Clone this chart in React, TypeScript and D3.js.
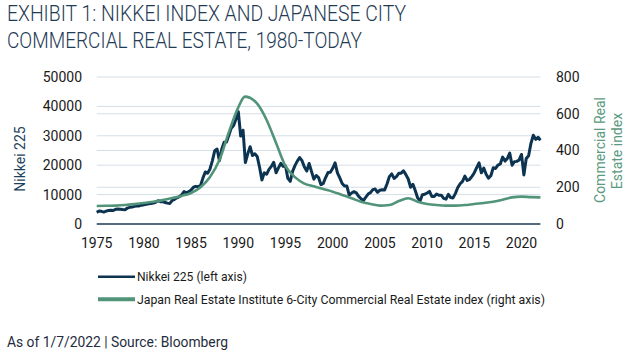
import React from "react";
import * as d3 from "d3";

// Nikkei 225, quarterly readings from 1975 Q1 to 2021 Q4, then the last print (Jan 2022)
const nikkeiStart = 1975;
const nikkeiValues = [
  3950, 4400, 4300, 4050,
  4360, 4600, 4700, 4600,
  4990, 5100, 5000, 4900,
  4870, 5400, 5650, 5800,
  6000, 6100, 6150, 6400,
  6560, 6700, 6900, 7000,
  7120, 7400, 7900, 7600,
  7680, 7300, 7100, 7000,
  8020, 8400, 8900, 9300,
  9890, 11000, 10600, 11000,
  11540, 12500, 12800, 12700,
  13110, 15600, 17700, 17300,
  18700, 21500, 24900, 25500,
  21560, 25500, 27800, 27900,
  30160, 32600, 33500, 35600,
  38200, 29900, 31900, 20900,
  23850, 26300, 23300, 23900,
  22980, 19300, 15000, 17400,
  16930, 18600, 19600, 21000,
  17420, 19100, 20600, 19600,
  19720, 15500, 14500, 17900,
  19870, 21400, 22600, 21550,
  19360, 18000, 20600, 17900,
  15260, 16500, 15800, 13400,
  13840, 15800, 17500, 17600,
  18930, 20800, 17400, 15700,
  13790, 12900, 12900, 9800,
  10540, 11000, 10600, 9400,
  8580, 7970, 9100, 10200,
  10680, 11700, 11900, 10800,
  11490, 11670, 11600, 13600,
  16110, 17060, 15500, 16100,
  17230, 17300, 18100, 16800,
  15310, 12500, 13500, 11300,
  8860, 7800, 9950, 10100,
  10550, 11100, 9380, 9370,
  10230, 9750, 9800, 8700,
  8460, 10080, 9000, 8870,
  10400, 12400, 13700, 14500,
  16290, 14800, 15200, 16200,
  17450, 19200, 20800, 17400,
  19030, 16900, 15600, 16400,
  19110, 18900, 20000, 20400,
  22760, 21400, 22300, 24100,
  20010, 21200, 21300, 21800,
  23660, 16700, 22300, 23200,
  27440, 30200, 28800, 29500,
  28480,
];

// Japan Real Estate Institute 6-City commercial index
const reYears = [
  1975, 1976, 1977, 1978, 1979, 1980, 1981, 1982, 1983, 1984, 1985, 1986,
  1987, 1988, 1989, 1990, 1990.7, 1992, 1993, 1994, 1995, 1996, 1997, 1998,
  1999, 2000, 2001, 2002, 2003, 2004, 2005, 2006, 2007, 2008, 2009, 2010,
  2011, 2012, 2013, 2014, 2015, 2016, 2017, 2018, 2019, 2020, 2021, 2022,
];
const reValues = [
  98, 99, 100, 103, 108, 114, 121, 130, 141, 153, 169, 200,
  256, 348, 500, 635, 693, 655, 566, 441, 315, 255, 220, 205,
  190, 176, 158, 140, 121, 109, 100, 103, 125, 140, 121, 109,
  103, 100, 100, 103, 109, 114, 121, 132, 145, 149, 146, 145,
];

const xTicks = [1975, 1980, 1985, 1990, 1995, 2000, 2005, 2010, 2015, 2020];
const leftTicks = [0, 10000, 20000, 30000, 40000, 50000];
const rightTicks = [0, 200, 400, 600, 800];

const NAVY = "#0c3350";
const GREEN = "#519479";
const GRID = "#d5dee6";
const FONT = "Roboto, 'Noto Sans', sans-serif";

export default function App() {
  const x = d3.scaleLinear().domain([1975, 2022]).range([96.7, 540.4]);
  const yL = d3.scaleLinear().domain([0, 50000]).range([224, 77]);
  const yR = d3.scaleLinear().domain([0, 800]).range([224, 77]);

  const nikkei = nikkeiValues.map((v, i) => ({ t: nikkeiStart + i * 0.25, v }));
  const re = reYears.map((t, i) => ({ t, v: reValues[i] }));

  const nikkeiLine = d3
    .line<{ t: number; v: number }>()
    .x((d) => x(Math.min(d.t, 2022)))
    .y((d) => yL(d.v));
  const reLine = d3
    .line<{ t: number; v: number }>()
    .curve(d3.curveMonotoneX)
    .x((d) => x(d.t))
    .y((d) => yR(d.v));

  const [x0, x1] = x.range();

  return (
    <svg
      width={630}
      height={352}
      style={{ position: "absolute", left: 0, top: 0, background: "#fff" }}
      fontFamily={FONT}
    >
      {/* title */}
      <text x={7} y={21} fontSize={22} fontWeight={300} fill="#1f3b55" textLength={399} lengthAdjust="spacingAndGlyphs">
        EXHIBIT 1: NIKKEI INDEX AND JAPANESE CITY
      </text>
      <text x={7} y={48} fontSize={22} fontWeight={300} fill="#1f3b55" textLength={355} lengthAdjust="spacingAndGlyphs">
        COMMERCIAL REAL ESTATE, 1980-TODAY
      </text>

      {/* gridlines */}
      {leftTicks.slice(1).map((t) => (
        <line key={"gl" + t} x1={x0} x2={x1} y1={yL(t)} y2={yL(t)} stroke={GRID} strokeWidth={1} />
      ))}
      {rightTicks.slice(1, -1).map((t) => (
        <line key={"gr" + t} x1={x0} x2={x1} y1={yR(t)} y2={yR(t)} stroke={GRID} strokeWidth={1} />
      ))}

      {/* series */}
      <path d={nikkeiLine(nikkei) ?? ""} fill="none" stroke={NAVY} strokeWidth={3} strokeLinejoin="round" />
      <path d={reLine(re) ?? ""} fill="none" stroke={GREEN} strokeWidth={2.6} />

      {/* x axis */}
      <line x1={x0} x2={x1} y1={224} y2={224} stroke="#1c3950" strokeWidth={1.5} />
      {xTicks.map((t) => (
        <text key={t} x={x(t)} y={248} fontSize={14} textAnchor="middle" fill="#1a1a1a">
          {t}
        </text>
      ))}

      {/* left axis */}
      {leftTicks.map((t) => (
        <text key={t} x={82} y={yL(t)} dy="0.35em" fontSize={14} textAnchor="end" fill="#1a1a1a">
          {t}
        </text>
      ))}
      <text transform="translate(20,159) rotate(-90)" dy="0.35em" fontSize={14} textAnchor="middle" fill="#1b3f5c">
        Nikkei 225
      </text>

      {/* right axis */}
      {rightTicks.map((t) => (
        <text key={t} x={556} y={yR(t)} dy="0.35em" fontSize={14} textAnchor="start" fill="#1a1a1a">
          {t}
        </text>
      ))}
      <text transform="translate(600,150) rotate(-90)" dy="0.35em" fontSize={14} textAnchor="middle" fill="#5b9a80">
        Commercial Real
      </text>
      <text transform="translate(617,151) rotate(-90)" dy="0.35em" fontSize={14} textAnchor="middle" fill="#5b9a80">
        Estate index
      </text>

      {/* legend */}
      <line x1={98} x2={135} y1={276.7} y2={276.7} stroke={NAVY} strokeWidth={2.6} />
      <text x={137} y={276.7} dy="0.35em" fontSize={13} fill="#1a1a1a" textLength={110} lengthAdjust="spacingAndGlyphs">
        Nikkei 225 (left axis)
      </text>
      <line x1={98} x2={135} y1={299.3} y2={299.3} stroke={GREEN} strokeWidth={4} />
      <text x={137} y={299.3} dy="0.35em" fontSize={13} fill="#1a1a1a" textLength={408} lengthAdjust="spacingAndGlyphs">
        Japan Real Estate Institute 6-City Commercial Real Estate index (right axis)
      </text>

      {/* footer */}
      <text x={7} y={346.5} fontSize={14} fill="#1f2d3d" textLength={221} lengthAdjust="spacingAndGlyphs">
        As of 1/7/2022 | Source: Bloomberg
      </text>
    </svg>
  );
}
